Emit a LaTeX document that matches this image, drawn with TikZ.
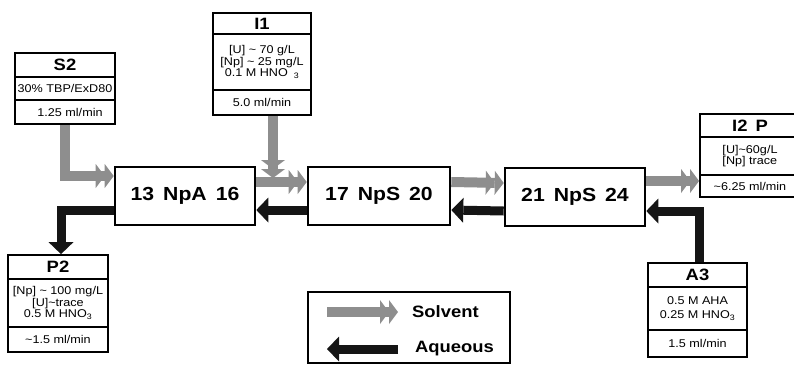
\documentclass[tikz,border=0pt]{standalone}
\usepackage{fontspec}
\setmainfont{Liberation Sans}[FakeStretch=1.12]
\usetikzlibrary{arrows.meta,positioning,calc}
\definecolor{solv}{HTML}{8e8e8e}
\definecolor{aq}{HTML}{151515}
\newcommand{\gapsp}{\hspace{9bp}}

\begin{document}
\begin{tikzpicture}[x=1bp,y=-1bp,
    stage/.style={
        draw, line width=2.6bp, minimum width=140bp, minimum height=58bp,
        inner sep=0pt, font=\fontsize{19}{22}\selectfont\bfseries
    },
    ttl/.style={
        draw, line width=1.8bp, minimum width=100bp, inner sep=0pt,
        font=\fontsize{16.5}{20}\selectfont\bfseries
    },
    cnt/.style={
        draw, line width=1.8bp, minimum width=100bp, inner sep=0pt,
        align=center, font=\fontsize{11.3}{11.8}\selectfont
    },
    legendbox/.style={draw, line width=1.5bp, minimum width=202bp, minimum height=71bp},
    legtxt/.style={anchor=west, inner sep=0pt, font=\fontsize{16.5}{20}\selectfont\bfseries},
    solvent/.style={
        draw=solv, line width=10bp, line join=miter,
        -{Triangle[width=24bp,length=9bp,line width=0pt,color=solv]
          Triangle[width=24bp,length=9bp,line width=0pt,color=solv]}
    },
    aqueous/.style={
        draw=aq, line width=9bp, line join=miter,
        -{Triangle[width=25bp,length=12bp,line width=0pt,color=aq]}
    },
]
\useasboundingbox (0,0) rectangle (794,365);

% stages
\node[stage] (npa) at (185,196) {13\gapsp NpA\gapsp 16};
\node[stage, minimum width=142bp] (nps1) at (379,196) {17\gapsp NpS\gapsp 20};
\node[stage] (nps2) at (575,197) {21\gapsp NpS\gapsp 24};

% feeds and products
\node[ttl, minimum height=24bp] (s2t) at (65,65) {S2};
\node[cnt, minimum height=23bp] (s2c) at (65,88.5) {30\% TBP/ExD80};
\node[cnt, minimum height=24bp] (s2r) at (65,112) {\hspace{10bp}1.25 ml/min};

\node[ttl, minimum width=98bp, minimum height=21bp] (i1t) at (262,23.5) {I1};
\node[cnt, minimum width=98bp, minimum height=56bp] (i1c) at (262,62)
    {[U] \textasciitilde{} 70 g/L\\{}[Np] \textasciitilde{} 25 mg/L\\0.1 M HNO\hspace{6bp}\textsubscript{3}};
\node[cnt, minimum width=98bp, minimum height=25bp] (i1r) at (262,102.5) {5.0 ml/min};

\node[ttl, minimum height=23bp] (i2t) at (750,125.5) {I2\hspace{8bp}P};
\node[cnt, minimum height=38bp, align=left] (i2c) at (750,156) {[U]\textasciitilde60g/L\\{}[Np] trace};
\node[cnt, minimum height=22bp] (i2r) at (750,186) {\textasciitilde6.25 ml/min};

\node[ttl, minimum height=24bp] (p2t) at (58,267) {P2};
\node[cnt, minimum height=48bp] (p2c) at (58,303)
    {[Np] \textasciitilde{} 100 mg/L\\{}[U]\textasciitilde trace\\0.5 M HNO\textsubscript{3}};
\node[cnt, minimum height=25bp] (p2r) at (58,339.5) {\textasciitilde1.5 ml/min};

\node[ttl, minimum width=99bp, minimum height=24bp] (a3t) at (697.5,275) {A3};
\node[cnt, minimum width=99bp, minimum height=43bp] (a3c) at (697.5,308.5)
    {0.5 M AHA\\[3bp]0.25 M HNO\textsubscript{3}};
\node[cnt, minimum width=99bp, minimum height=27bp] (a3r) at (697.5,343.5) {1.5 ml/min};

% legend
\node[legendbox] (leg) at (409,327.5) {};
\node[legtxt] (solvlbl) at (412,312) {Solvent};
\node[legtxt] (aqlbl) at (415,349) {Aqueous};
\coordinate (solvtail) at (327,312);
\coordinate (aqhead) at (327,349);

% solvent flow
\coordinate (i1in) at (273,178);
\draw[solvent] (i1r.south -| i1in) -- (i1in);
\draw[solvent] (s2r.south) |- ([yshift=20bp]npa.west);
\draw[solvent] ([yshift=14bp]npa.east) -- ([yshift=14bp]nps1.west);
\draw[solvent] ([yshift=14bp]nps1.east) -- ([yshift=14bp]nps2.west);
\draw[solvent] ([yshift=16bp]nps2.east) -- ([yshift=16bp]nps2.east -| i2r.west);
\draw[solvent] (solvtail) -- ([xshift=-14bp]solvlbl.west);

% aqueous flow
\draw[aqueous] ([yshift=-14bp]nps1.west) -- ([yshift=-14bp]npa.east);
\draw[aqueous] ([yshift=-14bp]nps2.west) -- ([yshift=-14bp]nps1.east);
\draw[aqueous] ([xshift=2bp]a3t.north) |- ([yshift=-14bp]nps2.east);
\draw[aqueous] ([yshift=-14bp]npa.west) -| ([xshift=3bp]p2t.north);
\draw[aqueous] ([xshift=-17bp]aqlbl.west) -- (aqhead);

\end{tikzpicture}
\end{document}
